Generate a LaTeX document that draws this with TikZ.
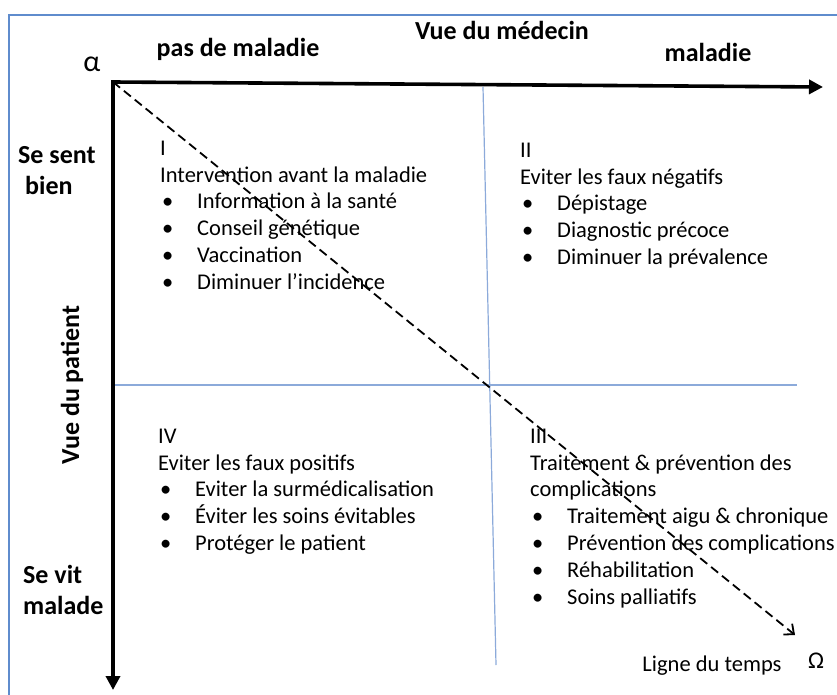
\documentclass[tikz,border=0pt]{standalone}
\usepackage{fontspec}
\setmainfont{Carlito}
\usetikzlibrary{arrows.meta}
\definecolor{frameblue}{RGB}{95,140,205}
\definecolor{gridblue}{RGB}{140,170,218}
\tikzset{
  axis/.style={line width=3.6pt, line cap=rect, -{Triangle[length=14pt,width=14pt]}},
  quadline/.style={gridblue, line width=1.2pt},
  timeline/.style={line width=1.8pt, dash pattern=on 9pt off 5pt, -{Straight Barb[length=8pt,width=14pt]}},
  boldlabel/.style={font=\fontsize{26}{31}\selectfont\bfseries, inner sep=0pt},
  quadtext/.style={font=\fontsize{22.5}{26.8}\selectfont, align=left, anchor=north west, inner sep=0pt},
}
\newcommand{\bitem}{\makebox[37pt][l]{\hspace{2pt}\textbullet}}
\newcommand{\qtop}{\rule{0pt}{20pt}}

\begin{document}
\begin{tikzpicture}[x=1pt,y=-1pt]
  \useasboundingbox (0,0) rectangle (837,695);
  \clip (0,0) rectangle (837,695);
  \draw[frameblue, line width=2pt] (9,720) -- (9,15) -- (860,15);

  \coordinate (O) at (113,82);
  \coordinate (xend) at (823,87);
  \coordinate (yend) at (113,690);
  \coordinate (tend) at (795,635);
  \coordinate (vtop) at (483,87);
  \coordinate (vbot) at (496,665);
  \coordinate (hleft) at (113,385);
  \coordinate (hright) at (797,385);

  \draw[quadline] (vtop) -- (vbot);
  \draw[quadline] (hleft) -- (hright);

  \node[quadtext] (qI) at (160,135) {\qtop I\\
    Intervention avant la maladie\\
    \bitem Information à la santé\\
    \bitem Conseil génétique\\
    \bitem Vaccination\\
    \bitem Diminuer l’incidence};
  \node[quadtext] (qII) at (520,137) {\qtop II\\
    Eviter les faux négatifs\\
    \bitem Dépistage\\
    \bitem Diagnostic précoce\\
    \bitem Diminuer la prévalence};
  \node[quadtext] (qIV) at (158,423) {\qtop IV\\
    Eviter les faux positifs\\
    \bitem Eviter la surmédicalisation\\
    \bitem Éviter les soins évitables\\
    \bitem Protéger le patient};
  \node[quadtext] (qIII) at (530,423) {\qtop III\\
    Traitement \& prévention des\\
    complications\\
    \bitem Traitement aigu \& chronique\\
    \bitem Prévention des complications\\
    \bitem Réhabilitation\\
    \bitem Soins palliatifs};

  \draw[timeline] (O) -- (tend);
  \draw[axis] (O) -- (xend);
  \draw[axis] (O) -- (yend);

  \node[font=\fontsize{30}{30}\selectfont, inner sep=0pt, anchor=base] (alpha) at (92,72) {α};
  \node[boldlabel, anchor=base] (nodisease) at (238,57) {pas de maladie};
  \node[boldlabel, anchor=base] (doctorview) at (502,40) {Vue du médecin};
  \node[boldlabel, anchor=base] (disease) at (708,62) {maladie};
  \node[boldlabel, align=left, anchor=north west] (feelwell) at (18,143) {\qtop Se sent\\\hspace{7pt}bien};
  \node[boldlabel, align=left, anchor=north west] (feelill) at (23,563) {\qtop Se vit\\malade};
  \node[boldlabel, rotate=90, anchor=base] (patientview) at (79,385) {Vue du patient};
  \node[font=\fontsize{22.5}{26}\selectfont, inner sep=0pt, anchor=base] (timelabel) at (712,671) {Ligne du temps};
  \node[font=\fontsize{24}{26}\selectfont, inner sep=0pt, anchor=base] (omega) at (816,668) {Ω};
\end{tikzpicture}
\end{document}
